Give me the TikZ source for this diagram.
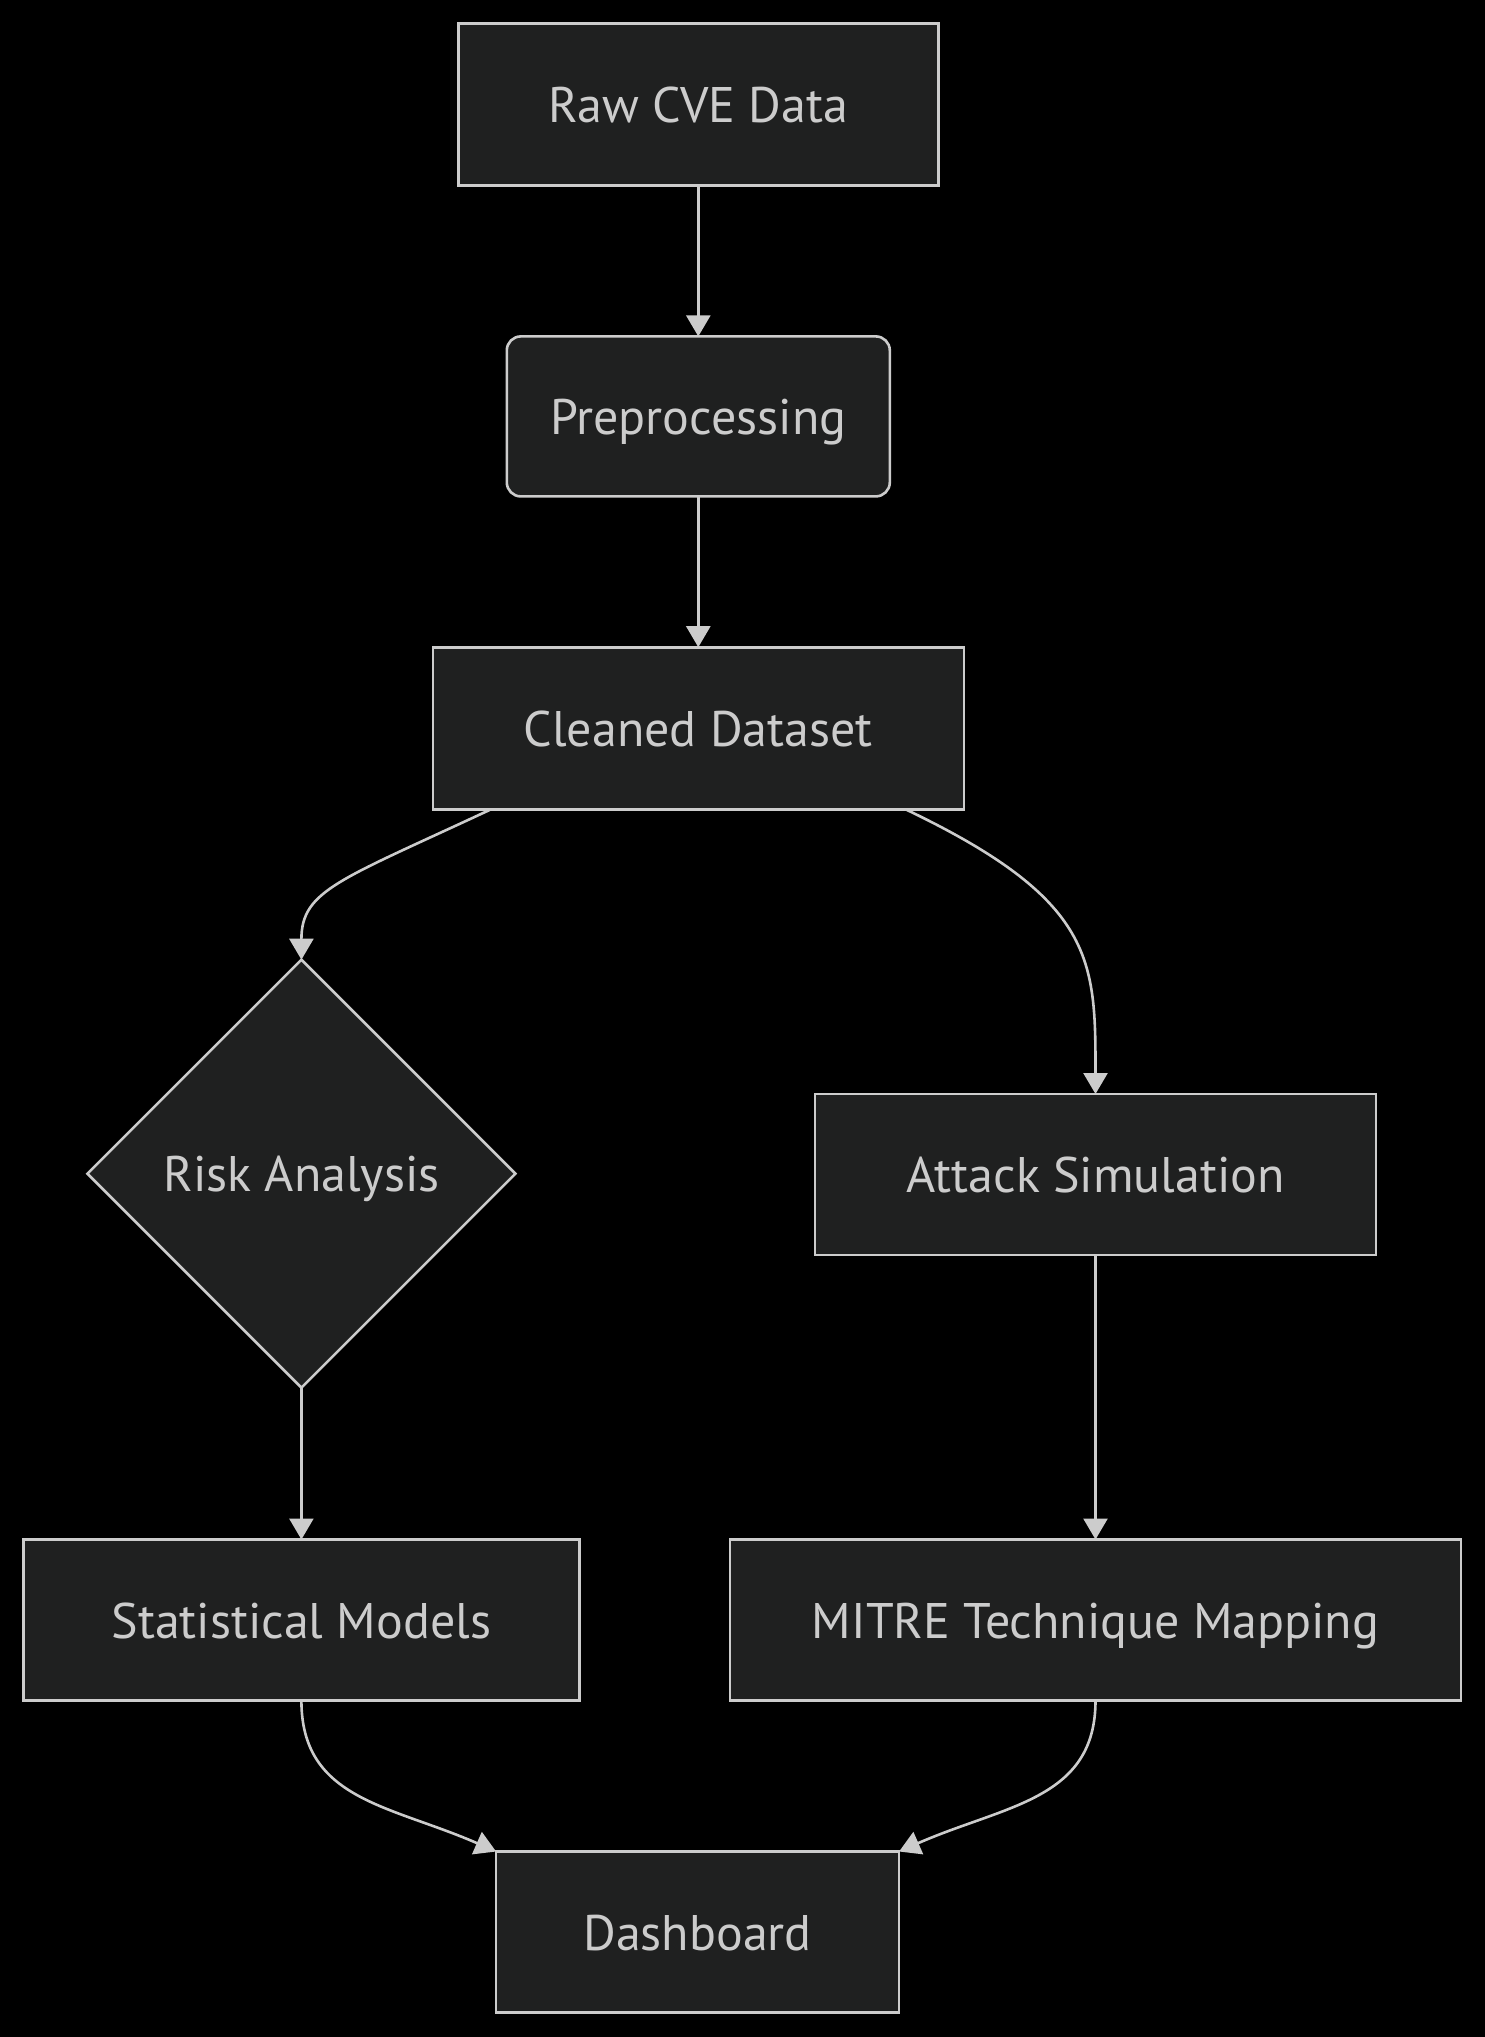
\documentclass[tikz,border=0pt]{standalone}
\usepackage{fontspec}
\setmainfont{PT Sans}
\usetikzlibrary{shapes.geometric,arrows.meta,calc}
\definecolor{nodefill}{HTML}{1F2020}
\definecolor{linecol}{HTML}{CCCCCC}
\tikzset{
  box/.style={draw=linecol, fill=nodefill, line width=2.6pt, text=linecol,
    inner sep=0pt, outer sep=0pt, font=\fontsize{50}{58}\selectfont,
    text height=36pt, text depth=0pt},
  roundbox/.style={box, rounded corners=14pt},
  decision/.style={box, diamond, minimum width=428pt, minimum height=428pt, aspect=1},
  flow/.style={draw=linecol, line width=2.6pt, -{Triangle[length=21pt,width=24pt]}}
}
\begin{document}
\begin{tikzpicture}[x=1pt,y=-1pt]
\fill[black] (0,0) rectangle (1485,2037);
\useasboundingbox (0,0) rectangle (1485,2037);

\node[box, minimum width=480pt, minimum height=162pt] (raw) at (698.3,104.6) {Raw CVE Data};
\node[roundbox, minimum width=383pt, minimum height=160pt] (pre) at (698.3,416.4) {Preprocessing};
\node[box, minimum width=531pt, minimum height=162pt] (clean) at (698.3,728.2) {Cleaned Dataset};
\node[decision] (risk) at (301.4,1173.7) {Risk Analysis};
\node[box, minimum width=561pt, minimum height=161pt] (attack) at (1095.5,1174.5) {Attack Simulation};
\node[box, minimum width=556pt, minimum height=161pt] (stat) at (301.4,1620) {Statistical Models};
\node[box, minimum width=731pt, minimum height=161pt] (mitre) at (1095.5,1620) {MITRE Technique Mapping};
\node[box, minimum width=403pt, minimum height=161pt] (dash) at (697.6,1932) {Dashboard};

\draw[flow] (raw.south) -- (pre.north);
\draw[flow] (pre.south) -- (clean.north);
\coordinate (c1) at ($(clean.south west)!0.11!(clean.south east)$);
\coordinate (c2) at ($(clean.south west)!0.89!(clean.south east)$);
\draw[flow] (c1) .. controls (340,880) and (301.4,890) .. (risk.north);
\draw[flow] (c2) .. controls (1095.5,900) and (1095.5,960) .. (attack.north);
\draw[flow] (risk.south) -- (stat.north);
\draw[flow] (attack.south) -- (mitre.north);
\draw[flow] (stat.south) .. controls (301.4,1800) and (390,1805) .. (dash.north west);
\draw[flow] (mitre.south) .. controls (1095.5,1800) and (1005,1805) .. (dash.north east);
\end{tikzpicture}
\end{document}
